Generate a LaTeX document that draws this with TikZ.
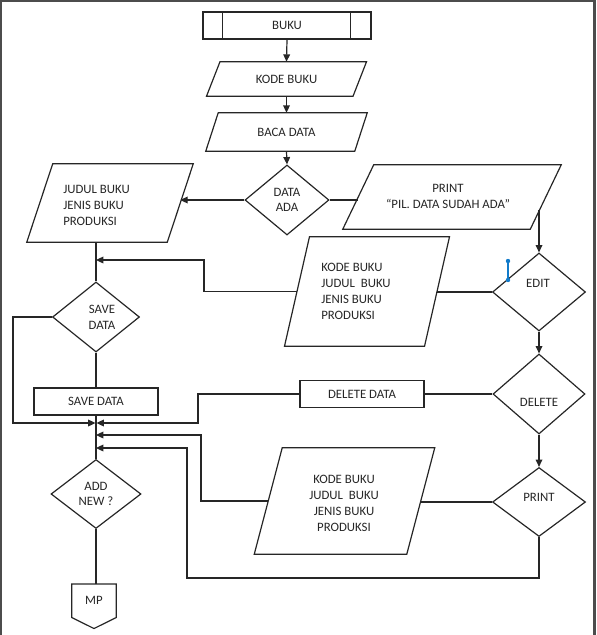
\documentclass[tikz,border=0pt]{standalone}
\usepackage{fontspec}
\setmainfont{Carlito}
\usetikzlibrary{shapes.geometric,arrows.meta,calc}
% parallelogram drawn round a named invisible rectangle node; #2 = half of the slant
\newcommand\pgram[2]{\draw[ln] ($(#1.north west)+(#2,0)$) -- ($(#1.north east)+(#2,0)$) -- ($(#1.south east)-(#2,0)$) -- ($(#1.south west)-(#2,0)$) -- cycle;}
\begin{document}
\begin{tikzpicture}[x=0.75pt,y=-0.75pt,
  every node/.style={font=\fontsize{9.6}{12}\selectfont, text=black!85},
  ln/.style={draw=black!85, line width=0.9pt},
  arr/.style={ln, -{Triangle[length=5.5pt,width=5pt]}},
  dia/.style={ln, shape=diamond, inner sep=0pt, align=center},
  box/.style={ln, rectangle, inner sep=0pt},
  pbody/.style={rectangle, inner sep=0pt, align=center},
  lbl/.style={inner sep=0pt},
]
\useasboundingbox (0,0) rectangle (596,635);
% frame
\draw[black!70, line width=1.6pt] (1,640) -- (1,1) -- (594.5,1) -- (594.5,640);

% main column
\node[box, minimum width=168*0.75pt, minimum height=27*0.75pt] (buku) at (287,25.5) {BUKU};
\draw[ln] ($(buku.north west)+(20,0)$) -- ($(buku.south west)+(20,0)$);
\draw[ln] ($(buku.north east)+(-21,0)$) -- ($(buku.south east)+(-21,0)$);

\node[pbody, minimum width=146*0.75pt, minimum height=34*0.75pt] (kode) at (286.5,79) {KODE BUKU};
\pgram{kode}{6.75}
\node[pbody, minimum width=148.5*0.75pt, minimum height=38*0.75pt] (baca) at (286.5,132) {BACA DATA};
\pgram{baca}{6.25}
\node[dia, minimum width=84*0.75pt, minimum height=70*0.75pt] (dataada) at (287,200) {DATA\\[-1pt]ADA};

% left parallelogram
\node[pbody, minimum width=140*0.75pt, minimum height=78*0.75pt] (judul) at (110,203) {};
\pgram{judul}{13}
\node[lbl, anchor=west, align=left] (judult) at (63,205) {JUDUL BUKU\\JENIS BUKU\\PRODUKSI};

% print message parallelogram
\node[pbody, minimum width=187*0.75pt, minimum height=64*0.75pt] (printmsg) at (452,197) {};
\pgram{printmsg}{15.5}
\node[lbl, align=center] (printmsgt) at (448,196) {PRINT\\“PIL. DATA SUDAH ADA”};

% right column diamonds
\node[dia, minimum width=93*0.75pt, minimum height=78*0.75pt] (edit) at (539,292) {};
\node[lbl] (editt) at (538,283) {EDIT};
\node[dia, minimum width=92*0.75pt, minimum height=80*0.75pt] (delete) at (539,394) {};
\node[lbl] (deletet) at (539,402) {DELETE};
\node[dia, minimum width=93*0.75pt, minimum height=69*0.75pt] (printd) at (539,502) {};
\node[lbl] (printdt) at (539,497) {PRINT};

% middle parallelogram
\node[pbody, minimum width=139.5*0.75pt, minimum height=109*0.75pt] (mid) at (367,291.5) {};
\pgram{mid}{12.5}
\node[lbl, anchor=west, align=left] (midt) at (321,291.5) {KODE BUKU\\JUDUL\ \ BUKU\\JENIS BUKU\\PRODUKSI};

% delete data box
\node[box, minimum width=124*0.75pt, minimum height=27*0.75pt] (deldata) at (362,394) {DELETE DATA};

% bottom parallelogram
\node[pbody, minimum width=152*0.75pt, minimum height=106*0.75pt] (bot) at (344.5,501) {};
\pgram{bot}{14}
\node[lbl, align=center] (bott) at (344,503.5) {KODE BUKU\\JUDUL\ \ BUKU\\JENIS BUKU\\PRODUKSI};

% left column
\node[dia, minimum width=87*0.75pt, minimum height=70*0.75pt] (savedia) at (96,317) {};
\node[lbl, align=center] (savediat) at (102,317) {SAVE\\DATA};
\node[box, minimum width=124*0.75pt, minimum height=27*0.75pt] (saverect) at (96,401.5) {SAVE DATA};
\node[dia, minimum width=90*0.75pt, minimum height=69*0.75pt] (addnew) at (96,494) {ADD\\[-1pt]NEW ?};
\node[inner sep=0pt, minimum width=44*0.75pt, minimum height=33*0.75pt, anchor=north] (mp) at (94,584) {MP};
\draw[ln] (mp.north west) -- (mp.north east) -- (mp.south east) -- ($(mp.south)+(0,11)$) -- (mp.south west) -- cycle;

% coordinates for connector ends
\coordinate (pmo) at (539,210);
\coordinate (c1) at (96,260);
\coordinate (c2) at (96,423);
\coordinate (c3) at (96,435);
\coordinate (c4) at (96,448);
\coordinate (k1) at (204,260);
\coordinate (k2) at (13,423);
\coordinate (k3) at (198,423);
\coordinate (k4) at (201,435);
\coordinate (k6) at (187,578);

% connectors
\draw[arr] (buku.south) -- (kode.north);
\draw[arr] (kode.south) -- (baca.north);
\draw[arr] (baca.south) -- (dataada.north);
\draw[arr] (dataada.west) -- (dataada.west -| judul.east);
\draw[ln] (dataada.east) -- (dataada.east -| printmsg.west);
\draw[arr] (pmo) -- (edit.north);
\draw[arr] (edit.south) -- (delete.north);
\draw[arr] (delete.south) -- (printd.north);
\draw[ln] (edit.west) -- (edit.west -| mid.east);
\draw[arr] (mid.west) -- (mid.west -| k1) -- (k1) -- (c1);
\draw[ln] (savedia.north |- judul.south) -- (savedia.north);
\draw[ln] (savedia.south) -- (saverect.north);
\draw[ln] (saverect.south) -- (addnew.north);
\draw[ln] (addnew.south) -- (addnew.south |- mp.north);
\draw[arr] (savedia.west) -| (k2) -- ($(c2)+(-0.5,0)$);
\draw[ln] (deldata.east) -- (delete.west);
\draw[arr] (deldata.west) -- (deldata.west -| k3) -- (k3) -- ($(c2)+(0.5,0)$);
\draw[ln] (printd.west) -- (printd.west -| bot.east);
\draw[arr] (bot.west) -- (bot.west -| k4) -- (k4) -- (c3);
\draw[arr] (printd.south) |- (k6) -- (k6 |- c4) -- (c4);

% selection handle artifact near EDIT
\draw[cyan!60!blue, line width=0.8pt] (508,261) -- (508,280);
\fill[cyan!60!blue] (508,261) circle[radius=2.2];
\fill[cyan!60!blue] (508,280) circle[radius=2.2];
\end{tikzpicture}
\end{document}
